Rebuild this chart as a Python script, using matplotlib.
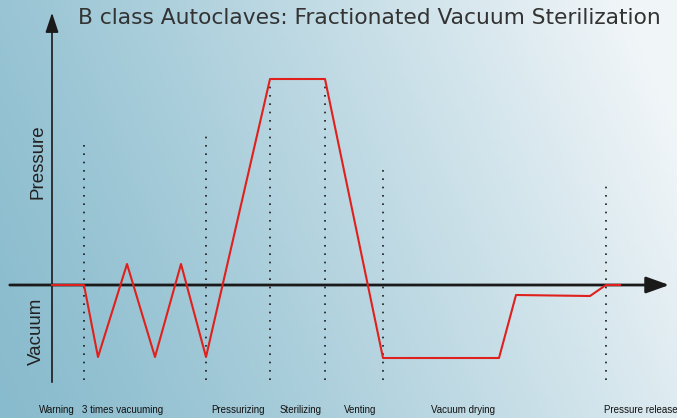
import matplotlib.pyplot as plt
import numpy as np

# cycle curve: time (arbitrary units) and pressure relative to atmosphere
t = [52, 84, 98, 127, 155, 181, 206, 270, 325, 383, 499, 516, 590, 606, 620]
p = [0, 0, -72, 21, -72, 21, -72, 206, 206, -73, -73, -10, -11, 0, 0]

# phase boundaries (dotted) and how high they reach
phase_x = [84, 206, 270, 325, 383, 606]
phase_top = [140, 152, 206, 206, 115, 105]

stages = ['Warning', '3 times vacuuming', 'Pressurizing', 'Sterilizing',
          'Venting', 'Vacuum drying', 'Pressure release']
stage_x = [57, 123, 238, 301, 360, 463, 641]

title = 'B class Autoclaves: Fractionated Vacuum Sterilization'

fig = plt.figure(figsize=(6.77, 4.18), dpi=100)
ax = fig.add_axes([0, 0, 1, 1])
ax.set_xlim(0, 677)
ax.set_ylim(-133, 285)
ax.axis('off')

# background gradient, teal bottom-left to pale top-right
gx, gy = np.meshgrid(np.linspace(0, 1, 200), np.linspace(0, 1, 120))
s = np.clip(0.85 * gx + 0.22 * gy, 0, 1) ** 1.2
c0 = np.array([0x88, 0xbb, 0xcd]) / 255
c1 = np.array([0xf0, 0xf5, 0xf8]) / 255
img = c0 + (c1 - c0) * s[..., None]
ax.imshow(img, extent=[0, 677, -133, 285], origin='lower', aspect='auto', zorder=0)

# dotted phase lines
for x, top in zip(phase_x, phase_top):
    ax.plot([x, x], [-95, top], color='#1a1a1a', lw=1.2, ls=(0, (1, 4)), zorder=1)

# axes with arrows
ax.annotate('', xy=(672, 0), xytext=(7, 0),
            arrowprops=dict(arrowstyle='-|>,head_length=1.4,head_width=0.5',
                            color='#1a1a1a', lw=2), zorder=2)
ax.annotate('', xy=(52, 275), xytext=(52, -100),
            arrowprops=dict(arrowstyle='-|>,head_length=1.2,head_width=0.4',
                            color='#1a1a1a', lw=1.2), zorder=2)

ax.plot(t, p, color='#e0201c', lw=1.5, zorder=3)

for lab, x in zip(stages, stage_x):
    ax.text(x, -125, lab, ha='center', va='center', fontsize=7,
            family=['Liberation Sans', 'DejaVu Sans'], color='#111111')

ax.text(38, 123, 'Pressure', rotation=90, ha='center', va='center',
        fontsize=13.5, family=['Liberation Sans'], color='#222222')
ax.text(36, -46, 'Vacuum', rotation=90, ha='center', va='center',
        fontsize=13.5, family=['Liberation Sans'], color='#222222')

ax.text(78, 267, title, ha='left', va='center', fontsize=15.7,
        family=['DejaVu Sans'], color='#333333')

fig.savefig('out.png', dpi=100)
